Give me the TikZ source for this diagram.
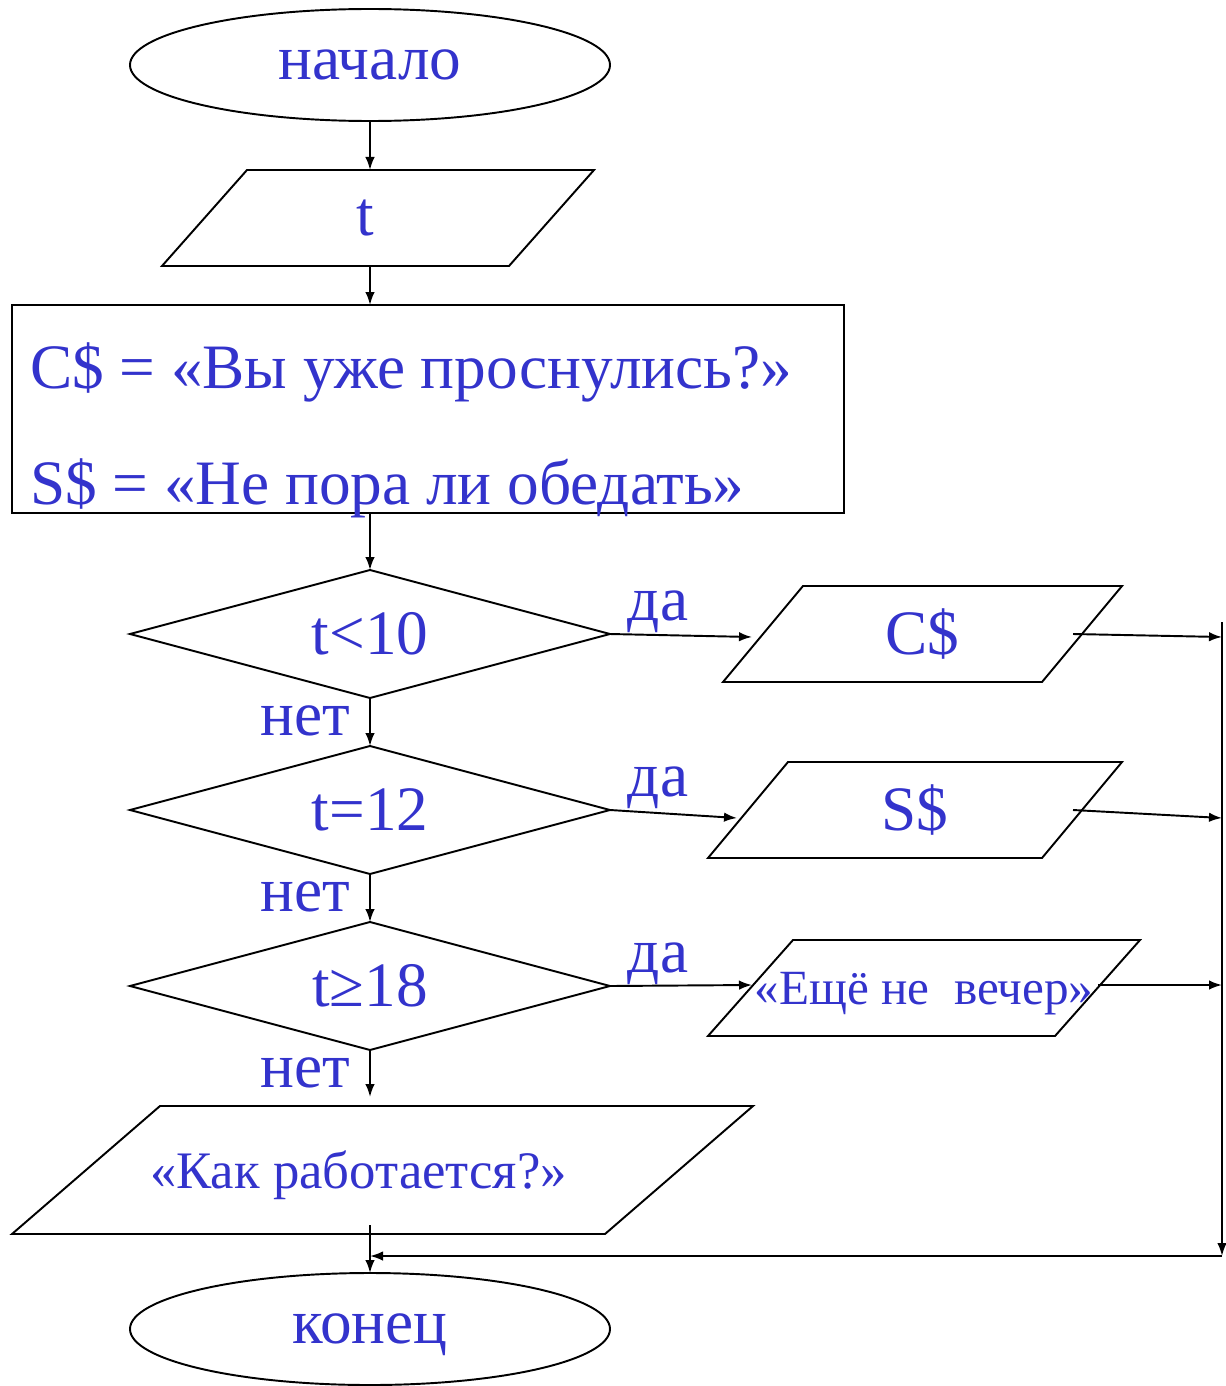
\documentclass[tikz,border=0pt]{standalone}
\usepackage{fontspec}
\setmainfont{Liberation Serif}
\usetikzlibrary{shapes.geometric,arrows.meta}
\definecolor{txtblue}{RGB}{51,51,204}
\begin{document}
\begin{tikzpicture}[x=0.2mm,y=-0.2mm,line width=1.1pt,
    every node/.style={text=txtblue,font=\fontsize{36}{40}\selectfont,inner sep=0pt,outer sep=0pt},
    term/.style={draw=black,ellipse,minimum width=96mm,minimum height=22.4mm},
    io/.style={rectangle,minimum height=19.2mm},
    proc/.style={draw=black,rectangle,minimum width=166.4mm,minimum height=41.6mm},
    dec/.style={draw=black,diamond,aspect=3.75,minimum width=96mm,minimum height=25.6mm},
    small/.style={font=\fontsize{28}{32}\selectfont},
    >={Latex[length=2.6mm,width=1.9mm]}]
  \useasboundingbox (0,0) rectangle (1225,1386);
  \node[term] (start) at (370,65) {начало};
  \node[io,minimum width=86.4mm] (inp) at (378,218) {t\kern5.2mm};
  \node[proc] (init) at (428,409) {};
  \node[anchor=west] (cline) at (30,372) {C\$ = «Вы уже проснулись?»};
  \node[anchor=west] (sline) at (30,488) {S\$ = «Не пора ли обедать»};
  \node[dec] (d1) at (370,634) {t<10};
  \node[dec] (d2) at (370,810) {t=12};
  \node[dec] (d3) at (370,986) {t≥18};
  \node[io,minimum width=79.8mm] (cs) at (922.5,634) {C\$};
  \node[io,minimum width=82.8mm] (ss) at (915,810) {S\$};
  \node[io,small,text depth=0pt,minimum width=86.4mm] (eve) at (924,988) {«Ещё не~ вечер»};
  \node[io,font=\fontsize{30}{34}\selectfont,text depth=0pt,minimum width=148.2mm,minimum height=25.6mm] (ask) at (382.5,1170) {«Как работается?»\kern9.6mm};
  \node[term,text depth=0pt] (stop) at (370,1329) {конец};
  % slanted outlines of the data boxes
  \foreach \n/\s in {inp/17mm,cs/16mm,ss/16mm,eve/17mm,ask/29.6mm}
    \draw ([xshift=\s]\n.north west) -- (\n.north east) -- ([xshift=-\s]\n.south east) -- (\n.south west) -- cycle;
  % labels
  \node (yes1) at (658,612) {да};
  \node (yes2) at (658,788) {да};
  \node (yes3) at (658,964) {да};
  \node (no1) at (305,721) {нет};
  \node (no2) at (305,897) {нет};
  \node (no3) at (305,1073) {нет};
  \coordinate (railtop) at (1222,622);
  \coordinate (railbot) at (1222,1256);
  \coordinate (askout) at ([yshift=1.8mm]ask.south);
  % main column
  \draw[->] (start) -- (inp.north -| start);
  \draw[->] (inp.south -| start) -- (init.north -| start);
  \draw[->] (init.south -| start) -- (d1);
  \draw[->] (d1) -- (d2);
  \draw[->] (d2) -- (d3);
  \draw[->] (d3) -- ([yshift=1.8mm]ask.north -| d3);
  \draw[->] (askout -| stop) -- (stop);
  % yes branches
  \draw[->] (d1.east) -- ([xshift=5.8mm,yshift=-0.6mm]cs.west);
  \draw[->] (d2.east) -- ([xshift=5.8mm,yshift=-1.6mm]ss.west);
  \draw[->] (d3.east) -- ([xshift=8.8mm,yshift=0.6mm]eve.west);
  \draw[->] ([xshift=-9.8mm]cs.east) -- ([yshift=-0.6mm]cs.east -| railtop);
  \draw[->] ([xshift=-9.8mm]ss.east) -- ([yshift=-1.6mm]ss.east -| railtop);
  \draw[->] ([xshift=-8.4mm,yshift=0.6mm]eve.east) -- ([yshift=0.6mm]eve.east -| railtop);
  \draw[->] (railtop) -- (railbot);
  \draw[->] (railbot) -- (railbot -| stop);
\end{tikzpicture}
\end{document}
